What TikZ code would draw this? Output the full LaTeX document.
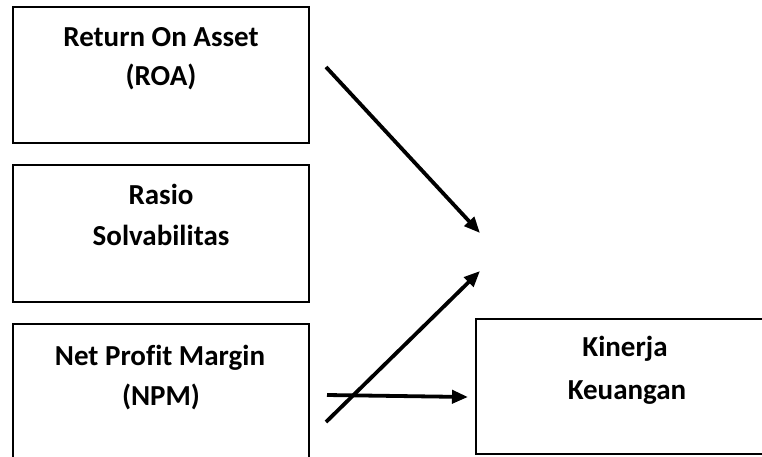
\documentclass[tikz,border=0pt]{standalone}
\usepackage{fontspec}
\setmainfont[Ligatures=NoCommon]{Carlito}
\usetikzlibrary{arrows.meta}
\begin{document}
\begin{tikzpicture}[x=1pt,y=-1pt,
  boxstyle/.style={draw=black,line width=2pt},
  lbl/.style={font=\fontsize{29}{34}\selectfont\bfseries,anchor=base,inner sep=0pt},
  arr/.style={line width=3.8pt,-{Triangle[length=16pt,width=13pt]}}]
\clip (0,0) rectangle (762,456);
\useasboundingbox (0,0) rectangle (762,456);
% boxes
\draw[boxstyle] (13,7) rectangle (309,143);
\draw[boxstyle] (13,165) rectangle (309,302);
\draw[boxstyle] (13,324) rectangle (309,470);
\draw[boxstyle] (476,319) rectangle (780,454);
% texts
\node[lbl] (t1a) at (161,46) {Return On Asset};
\node[lbl] (t1b) at (161,85) {(ROA)};
\node[lbl] (t2a) at (161,204) {Rasio};
\node[lbl] (t2b) at (161,245) {Solvabilitas};
\node[lbl] (t3a) at (160,365) {Net Profit Margin};
\node[lbl] (t3b) at (161,405) {(NPM)};
\node[lbl] (t4a) at (625,356) {Kinerja};
\node[lbl] (t4b) at (627,399) {Keuangan};
% arrows
\coordinate (s1) at (326,67);
\coordinate (e1) at (480,233);
\coordinate (s2) at (326,422);
\coordinate (e2) at (480,271);
\coordinate (s3) at (327,395);
\coordinate (e3) at (468,397);
\draw[arr] (s1) -- (e1);
\draw[arr] (s2) -- (e2);
\draw[arr] (s3) -- (e3);
\end{tikzpicture}
\end{document}
